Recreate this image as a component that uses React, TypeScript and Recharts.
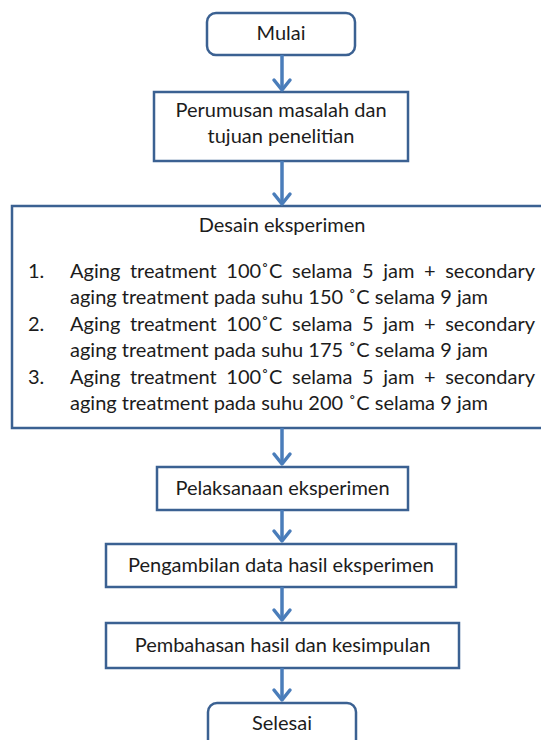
import { ComposedChart, XAxis, YAxis, ReferenceArea, ReferenceLine, Scatter } from 'recharts';

// text of every step, top to bottom
const stepLabels: string[][] = [
  ['Mulai'],
  ['Perumusan masalah dan', 'tujuan penelitian'],
  ['Desain eksperimen'],
  ['Pelaksanaan eksperimen'],
  ['Pengambilan data hasil eksperimen'],
  ['Pembahasan hasil dan kesimpulan'],
  ['Selesai'],
];

const designNumbers = ['1.', '2.', '3.'];
const designFirstLines = [
  'Aging treatment 100˚C selama 5 jam + secondary',
  'Aging treatment 100˚C selama 5 jam + secondary',
  'Aging treatment 100˚C selama 5 jam + secondary',
];
const designSecondLines = [
  'aging treatment pada suhu 150 ˚C selama 9 jam',
  'aging treatment pada suhu 175 ˚C selama 9 jam',
  'aging treatment pada suhu 200 ˚C selama 9 jam',
];

// layout of the boxes in page units (0..541 across, 0..740 down)
const boxLayout = [
  { x1: 207, x2: 355, y1: 13, y2: 55, round: true, shift: 0 },
  { x1: 154, x2: 408, y1: 92, y2: 161, round: false, shift: -3 },
  { x1: 12, x2: 548, y1: 206, y2: 428, round: false, shift: 0 },
  { x1: 157, x2: 408, y1: 467, y2: 510, round: false, shift: 0 },
  { x1: 106, x2: 456, y1: 544, y2: 587, round: false, shift: 0 },
  { x1: 106, x2: 459, y1: 623, y2: 668, round: false, shift: 0 },
  { x1: 208, x2: 356, y1: 703, y2: 760, round: true, shift: -8 },
];

const ARROW_X = 282;
const arrowTips = [90, 204, 464, 541, 620, 700];

const BOX_STROKE = '#3B6192';
const ARROW = '#4A7DBA';
const INK = '#1c1c1c';
const FONT = 'Lato, "Open Sans", sans-serif';
const FONT_SIZE = 20;

let ctx: CanvasRenderingContext2D | null = null;
const textWidth = (s: string) => {
  if (!ctx) ctx = document.createElement('canvas').getContext('2d');
  if (!ctx) return s.length * 9;
  ctx.font = `${FONT_SIZE}px Lato`;
  return ctx.measureText(s).width;
};

const StepBox = (props: any, idx: number) => {
  const { x, y, width, height } = props;
  const b = boxLayout[idx];
  const lines = stepLabels[idx];
  const cx = x + width / 2;
  const lh = 26;
  let labels;
  if (idx === 2) {
    const left = x + 58;
    const right = x + 523;
    const first = [y + 72, y + 125, y + 178];
    labels = (
      <g>
        <text x={x + 270} y={y + 26} textAnchor="middle">{lines[0]}</text>
        {designNumbers.map((n, i) => {
          const words = designFirstLines[i].split(' ').length - 1;
          const ws = (right - left - textWidth(designFirstLines[i])) / words;
          return (
            <g key={n}>
              <text x={x + 16} y={first[i]}>{n}</text>
              <text x={left} y={first[i]} style={{ wordSpacing: `${ws}px` }}>{designFirstLines[i]}</text>
              <text x={left} y={first[i] + 26}>{designSecondLines[i]}</text>
            </g>
          );
        })}
      </g>
    );
  } else {
    const cy = (b.y1 + b.y2) / 2 - b.y1 + y;
    labels = lines.map((l, i) => (
      <text key={l} x={cx} y={cy + (i - (lines.length - 1) / 2) * lh + 6 + b.shift} textAnchor="middle">{l}</text>
    ));
  }
  return (
    <g fontFamily={FONT} fontSize={FONT_SIZE} fill={INK}>
      <rect x={x} y={y} width={width} height={height} rx={b.round ? 9 : 0} ry={b.round ? 9 : 0}
        fill="#ffffff" stroke={BOX_STROKE} strokeWidth={2.5} />
      {labels}
    </g>
  );
};

const Chevron = (props: any) => {
  const { cx, cy } = props;
  return (
    <path d={`M${cx - 8},${cy - 10} L${cx},${cy} L${cx + 8},${cy - 10}`} fill="none" stroke={ARROW}
      strokeWidth={3.5} strokeLinecap="round" strokeLinejoin="round" />
  );
};

export default function App() {
  const tips = arrowTips.map((t) => ({ x: ARROW_X, y: t }));
  return (
    <div style={{ position: 'absolute', left: 0, top: 0, width: 541, height: 740, background: '#fff' }}>
      <ComposedChart width={541} height={740} margin={{ top: 0, right: 0, bottom: 0, left: 0 }}>
        <XAxis type="number" dataKey="x" domain={[0, 541]} hide allowDataOverflow />
        <YAxis type="number" dataKey="y" domain={[0, 740]} reversed hide allowDataOverflow />
        {arrowTips.map((tip, i) => (
          <ReferenceLine key={`a${i}`} ifOverflow="visible" stroke={ARROW} strokeWidth={3.5}
            segment={[{ x: ARROW_X, y: boxLayout[i].y2 }, { x: ARROW_X, y: tip - 1 }]} />
        ))}
        {boxLayout.map((b, i) => (
          <ReferenceArea key={`b${i}`} x1={b.x1} x2={b.x2} y1={b.y1} y2={b.y2} ifOverflow="visible"
            shape={(p: any) => StepBox(p, i)} />
        ))}
        <Scatter data={tips} dataKey="y" shape={Chevron} isAnimationActive={false} />
      </ComposedChart>
    </div>
  );
}
